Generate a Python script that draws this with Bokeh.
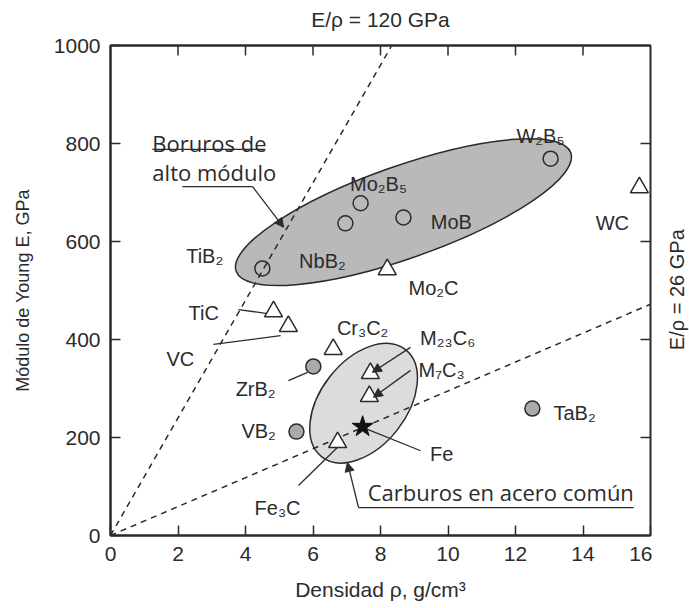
import math
import numpy as np
from bokeh.plotting import figure
from bokeh.layouts import row
from bokeh.models import (Range1d, FixedTicker, LinearAxis, Arrow, NormalHead,
                          ColumnDataSource)
from bokeh.core.properties import value
from bokeh.embed import file_html
from bokeh.resources import INLINE

# ---------------- data ----------------
boride_open_names = ["TiB₂", "NbB₂", "Mo₂B₅", "MoB", "W₂B₅"]
boride_open_rho = [4.5, 6.96, 7.41, 8.68, 13.04]
boride_open_E = [545, 637, 678, 649, 769]

boride_fill_names = ["ZrB₂", "VB₂", "TaB₂"]
boride_fill_rho = [6.01, 5.51, 12.5]
boride_fill_E = [345, 212, 259]

carbide_names = ["Mo₂C", "TiC", "VC", "Cr₃C₂", "M₂₃C₆", "M₇C₃", "Fe₃C", "WC"]
carbide_rho = [8.2, 4.83, 5.27, 6.6, 7.7, 7.67, 6.73, 15.67]
carbide_E = [543, 457, 427, 380, 331, 284, 190, 710]

iron_names = ["Fe"]
iron_rho = [7.47]
iron_E = [222]

ratio_slopes = [120, 29.5]          # E/rho lines, GPa
ratio_labels = ["E/ρ = 120 GPa", "E/ρ = 26 GPa"]

x_ticks = [0, 2, 4, 6, 8, 10, 12, 14, 16]
y_ticks = [0, 200, 400, 600, 800, 1000]

# ---------------- label placement (data coords) ----------------
label_text = ["TiB₂", "NbB₂", "Mo₂B₅", "MoB", "W₂B₅", "WC", "Mo₂C", "TiC", "VC",
              "Cr₃C₂", "M₂₃C₆", "M₇C₃", "ZrB₂", "VB₂", "Fe", "Fe₃C", "TaB₂"]
label_x = [2.79, 6.28, 7.94, 10.1, 12.74, 14.87, 9.57, 2.76, 2.07,
           7.47, 9.99, 9.81, 4.3, 4.39, 9.81, 4.95, 13.75]
label_y = [571, 561, 718, 639, 816, 637, 506, 455, 361,
           424, 404, 337, 300, 214, 167, 57, 251]

# leader lines (x0, y0, x1, y1)
leader_x0 = [3.79, 3.05, 5.27, 7.56, 5.57]
leader_y0 = [461, 390, 316, 218, 102]
leader_x1 = [4.65, 5.04, 5.84, 9.19, 6.73]
leader_y1 = [453, 408, 333, 173, 180]

# arrows (start -> head)
arrow_x0 = [8.89, 8.89, 4.21, 7.35]
arrow_y0 = [384, 337, 712, 57]
arrow_x1 = [7.76, 7.79, 5.13, 7.02]
arrow_y1 = [333, 282, 629, 149]

# groups (ellipses): centre, screen width/height, angle
group_x = [8.68, 7.5]
group_y = [660, 270]
group_w = [355, 136]
group_h = [92, 86]
group_angle = [19.5, 52]
group_fill = ["#b9b9b9", "#dcdcdc"]

FONT = value("Liberation Sans")
NOTE_FONT = value("Open Sans")
INK = "#2b2b2b"

X0, X1 = 0, 16
Y0, Y1 = 0, 1000
FRAME_W, FRAME_H = 540, 490
TICK_PX = 10
FIG_H = 608
SIDE_W = 37

p = figure(width=652, height=FIG_H, x_range=Range1d(X0, X1), y_range=Range1d(Y0, Y1),
           output_backend="svg", toolbar_location=None,
           min_border_left=110, min_border_right=2, min_border_top=45, min_border_bottom=73)
p.xgrid.visible = False
p.ygrid.visible = False
p.outline_line_color = INK
p.outline_line_width = 2
p.background_fill_color = "white"
p.border_fill_color = "white"

# ellipses
p.ellipse(x=group_x, y=group_y, width=group_w, height=group_h,
          angle=np.radians(group_angle), width_units="screen", height_units="screen",
          fill_color=group_fill, line_color=INK, line_width=1.5)

# ratio lines
for k in ratio_slopes:
    xe = min(float(X1), Y1 / k)
    p.line([0, xe], [0, k * xe], line_color=INK, line_width=1.5, line_dash="6 5")

# leader lines
p.segment(x0=leader_x0, y0=leader_y0, x1=leader_x1, y1=leader_y1, line_color=INK, line_width=1.3)

# annotation paths
p.line([1.24, 4.59], [788, 788], line_color=INK, line_width=1.3)      # underline
p.line([2.13, 4.21], [712, 712], line_color=INK, line_width=1.3)
p.line([15.5, 7.35], [57, 57], line_color=INK, line_width=1.3)
for xa, ya, xb, yb in zip(arrow_x0, arrow_y0, arrow_x1, arrow_y1):
    p.add_layout(Arrow(end=NormalHead(size=9, fill_color=INK, line_color=INK),
                       x_start=xa, y_start=ya, x_end=xb, y_end=yb,
                       line_color=INK, line_width=1.3))

# inward ticks on top and right edges
tx = x_ticks[1:-1]
dy = TICK_PX * (Y1 - Y0) / FRAME_H
p.segment(x0=tx, y0=[Y1] * len(tx), x1=tx, y1=[Y1 - dy] * len(tx), line_color=INK, line_width=1.5)
ty = y_ticks[1:-1]
dx = TICK_PX * (X1 - X0) / FRAME_W
p.segment(x0=[X1] * len(ty), y0=ty, x1=[X1 - dx] * len(ty), y1=ty, line_color=INK, line_width=1.5)

# markers
p.scatter(boride_open_rho, boride_open_E, marker="circle", size=15,
          fill_alpha=0, line_color=INK, line_width=1.5)
p.scatter(boride_fill_rho, boride_fill_E, marker="circle", size=15,
          fill_color="#aaaaaa", line_color=INK, line_width=1.5)
p.scatter(carbide_rho, carbide_E, marker="triangle", size=18,
          fill_color="white", line_color=INK, line_width=1.5)
p.scatter(iron_rho, iron_E, marker="star", size=22,
          fill_color="#111111", line_color="#111111", line_width=1)

# labels
src = ColumnDataSource(dict(x=label_x, y=label_y, t=label_text))
p.text(x="x", y="y", text="t", source=src, text_font=FONT, text_font_size="20px",
       text_align="center", text_baseline="middle", text_color=INK)

# notes
p.text(x=[1.24, 1.24], y=[802, 741], text=["Boruros de", "alto módulo"],
       text_font=NOTE_FONT, text_font_size="22px", text_align="left",
       text_baseline="middle", text_color=INK)
p.text(x=[7.62], y=[88], text=["Carburos en acero común"],
       text_font=NOTE_FONT, text_font_size="22px", text_align="left",
       text_baseline="middle", text_color=INK)

# axes
below = p.below[0]
left = p.left[0]
above = LinearAxis(ticker=FixedTicker(ticks=[]))
p.add_layout(above, "above")

for ax in (below, left, above):
    ax.major_tick_in = TICK_PX
    ax.major_tick_out = 0
    ax.minor_tick_in = 0
    ax.minor_tick_out = 0
    ax.axis_line_color = INK
    ax.axis_line_width = 2
    ax.major_tick_line_color = INK
    ax.major_tick_line_width = 1.5
    ax.major_label_text_font = "Liberation Sans"
    ax.major_label_text_color = INK
    ax.major_label_text_font_size = "21px"
    ax.axis_label_text_font = "Liberation Sans"
    ax.axis_label_text_font_style = "normal"
    ax.axis_label_text_color = INK

below.ticker = FixedTicker(ticks=x_ticks)
left.ticker = FixedTicker(ticks=y_ticks)

below.axis_label = "Densidad ρ, g/cm³"
below.axis_label_text_font_size = "21px"
below.major_label_standoff = 11
below.axis_label_standoff = 14

left.axis_label = "Módulo de Young E, GPa"
left.axis_label_text_font_size = "18px"
left.major_label_standoff = 10
left.axis_label_standoff = 18

above.axis_label = ratio_labels[0]
above.axis_label_text_font_size = "21px"
above.axis_label_standoff = 15

# narrow side strip carrying the right-hand ratio label (reads bottom-to-top)
side = figure(width=SIDE_W, height=FIG_H, x_range=Range1d(0, 1), y_range=Range1d(0, 1),
              output_backend="svg", toolbar_location=None,
              min_border_left=0, min_border_right=0, min_border_top=0, min_border_bottom=0)
side.axis.visible = False
side.xgrid.visible = False
side.ygrid.visible = False
side.outline_line_color = None
side.background_fill_color = "white"
side.border_fill_color = "white"
label_cx = 24 / SIDE_W            # px right of the main frame edge
label_cy = 1 - 303 / FIG_H
side.text(x=[label_cx], y=[label_cy], text=[ratio_labels[1]], angle=math.pi / 2,
          text_font=FONT, text_font_size="20px", text_align="center",
          text_baseline="middle", text_color=INK)

layout = row(p, side)
open("out.html", "w").write(file_html(layout, INLINE))
